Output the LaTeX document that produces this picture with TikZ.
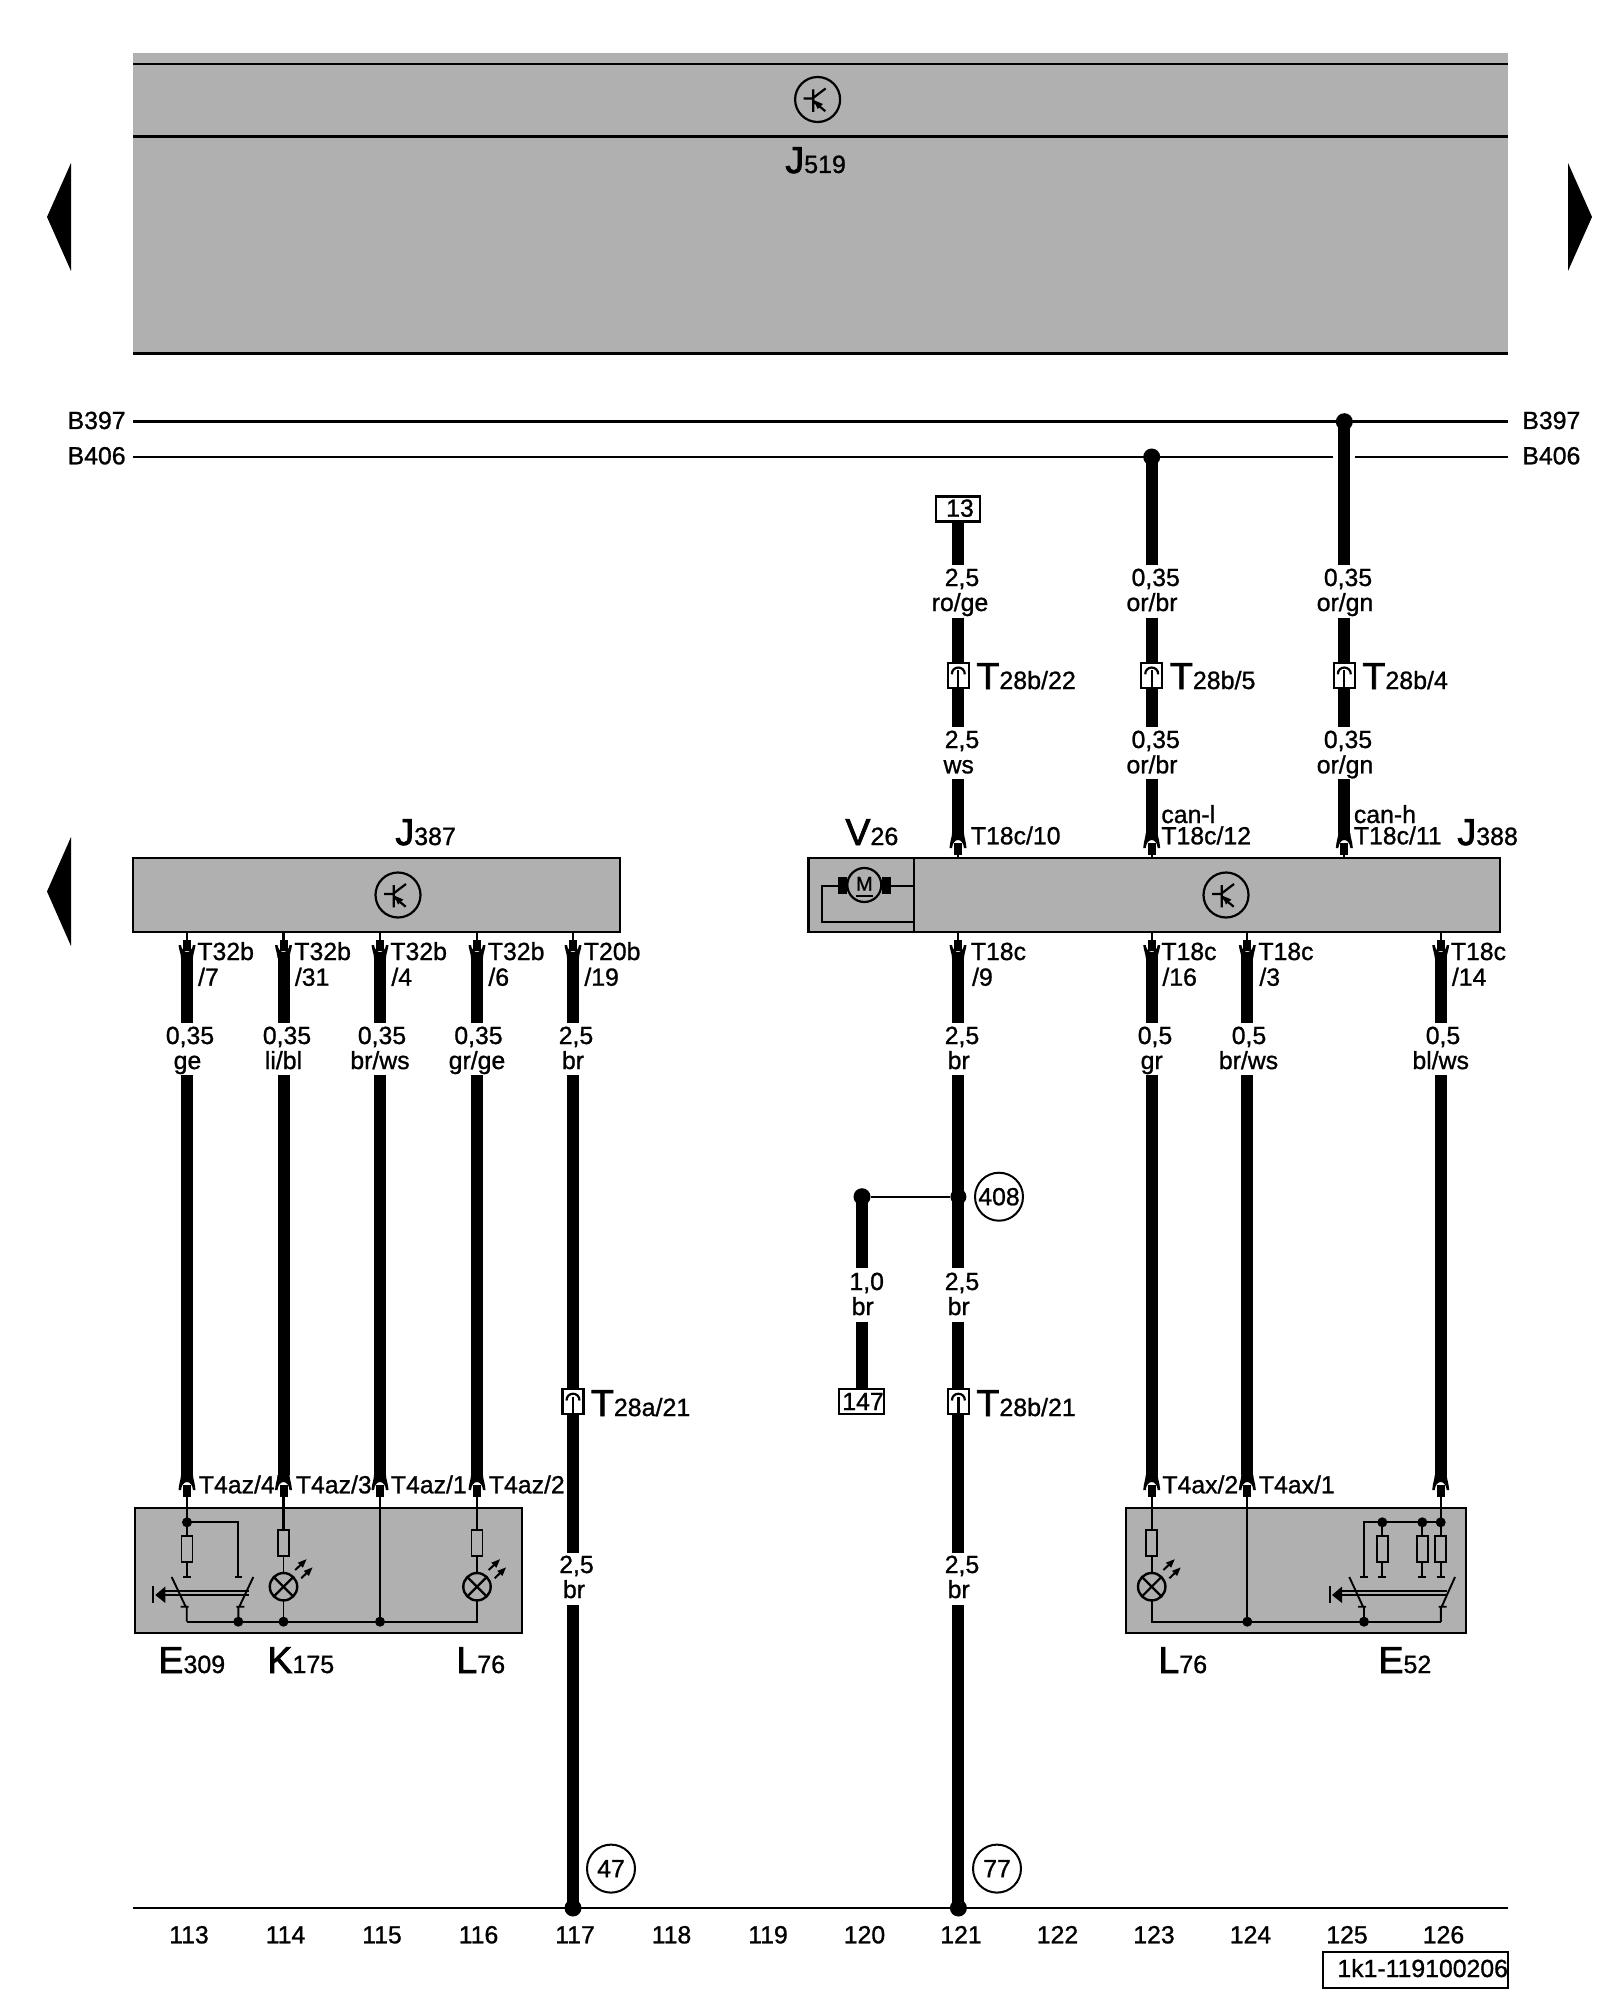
\documentclass[tikz,border=0pt]{standalone}
\usepackage{fontspec}
\setmainfont[FakeBold=1.0]{Liberation Sans}
\newfontfamily\bigf[FakeBold=2.0]{Liberation Sans}
\newcommand{\Bg}[2]{{\bigf\fontsize{18.8pt}{20pt}\selectfont #1}{\fontsize{12.5pt}{14pt}\selectfont #2}}
\definecolor{ecu}{RGB}{176,176,176}
\tikzset{
  thinl/.style={line width=1.35pt,black},
  sym/.style={line width=0.95pt,black},
  wire/.style={line width=6pt,black},
  lab/.style={font=\fontsize{12.4pt}{14pt}\selectfont,inner sep=0pt,anchor=base},
  labw/.style={font=\fontsize{12.4pt}{14pt}\selectfont,inner sep=0pt,anchor=base west},
  big/.style={inner sep=0pt,anchor=base west},
  panel/.style={fill=ecu,draw=black,line width=1.2pt},
  refcirc/.style={circle,draw=black,line width=1pt,fill=white,minimum size=24pt,inner sep=0pt,font=\fontsize{12.4pt}{14pt}\selectfont},
  refbox/.style={rectangle,draw=black,line width=1.1pt,fill=white,inner sep=0pt,font=\fontsize{12.4pt}{14pt}\selectfont},
  dot/.style={circle,fill=black,inner sep=0pt,minimum size=#1},
  dot/.default=5pt
}
% wire segment
\newcommand{\seg}[4]{\coordinate (#1a) at (#2,#3);\coordinate (#1b) at (#2,#4);\draw[wire] (#1a) -- (#1b);}
% two line wire label
\newcommand{\wl}[6]{\node[lab] at (#1,#2) {#3};\node[lab] at (#4,#5) {#6};}
% connector entering a box from above (apex y, flare end y, box/target y)
\newcommand{\connup}[3]{\fill (#1-8.5,#2+12) .. controls (#1-8,#2+5) and (#1-6,#2+1) .. (#1-6,#2-3) -- (#1+6,#2-3) .. controls (#1+6,#2+1) and (#1+8,#2+5) .. (#1+8.5,#2+12) -- (#1+6,#2+12) .. controls (#1+5.5,#2+7) and (#1+3,#2+4) .. (#1,#2+4) .. controls (#1-3,#2+4) and (#1-5.5,#2+7) .. (#1-6,#2+12) -- cycle;
  \draw[line width=4pt] (#1,#2+7) -- (#1,#2+19);\draw[line width=1.1pt] (#1,#2+19) -- (#1,#3);}
% connector leaving a box below
\newcommand{\conndn}[1]{\draw[line width=1.1pt] (#1,931.7) -- (#1,940);\draw[line width=4pt] (#1,940) -- (#1,951);
  \fill (#1-8.5,945) .. controls (#1-8,950) and (#1-6,954) .. (#1-6,958) -- (#1+6,958) .. controls (#1+6,954) and (#1+8,950) .. (#1+8.5,945) -- (#1+6,945) .. controls (#1+5.5,949) and (#1+3,952) .. (#1,952) .. controls (#1-3,952) and (#1-5.5,949) .. (#1-6,945) -- cycle;}
% inline plug
\newcommand{\plug}[3]{\node[rectangle,draw=black,line width=1.1pt,fill=white,minimum width=10.5pt,minimum height=12.5pt,inner sep=0pt] (#3) at (#1,#2) {};
  \draw[line width=1.1pt] (#1-6.5,#2-1) .. controls (#1-6.5,#2-10) and (#1+6.5,#2-10) .. (#1+6.5,#2-1);
  \draw[line width=1.1pt] (#1,#2-5) -- (#1,#2+12);}
% control unit symbol
\newcommand{\tcirc}[3]{\node[circle,draw=black,line width=1.1pt,fill=none,minimum size=22.5pt,inner sep=0pt] (#3) at (#1,#2) {};
  \begin{scope}[shift={(#1,#2)}]
  \draw[line width=1.1pt] (-14,-1) -- (-4.3,-1) (-4.3,-10) -- (-4.3,12.3) (-4.3,-1.7) -- (8,-11) (-4.3,1.7) -- (7.7,11.7);
  \fill (-3.7,0.7) -- (5.3,4.5) -- (0,9.5) -- cycle;
  \end{scope}}
% resistor
\newcommand{\res}[3]{\draw[sym,fill=ecu] (#1-5.5,#2) rectangle (#1+5.5,#3);}
% lamp
\newcommand{\lamp}[2]{\begin{scope}[shift={(#1,#2)}]
  \draw[line width=1.2pt,fill=ecu] (0,0) circle (13.7);
  \draw[line width=1.1pt] (-9.7,-9.7) -- (9.7,9.7) (-9.7,9.7) -- (9.7,-9.7);
  \end{scope}}
% LED rays
\newcommand{\rays}[2]{\begin{scope}[shift={(#1,#2)}]
  \foreach \dx/\dy in {0/0,6/8.2}{
    \draw[line width=1pt] (\dx+11.7,\dy-16.7) -- (\dx+17.5,\dy-22.2);
    \fill (\dx+23,\dy-27.5) -- (\dx+14.2,\dy-24) -- (\dx+19.4,\dy-19) -- cycle;}
  \end{scope}}
% switch
\newcommand{\swt}[6]{
  \draw[sym] (#1,1577) -- (#2-1,1606.7) (#2-6,1606.7) -- (#2+2,1606.7) (#2,1606.7) -- (#2,1621.7);
  \draw[sym] (#4,1577) -- (#3+1,1606.7) (#3-2,1606.7) -- (#3+6,1606.7) (#3,1606.7) -- (#3,1621.7);
  \draw[sym] (#5+10,1590.7) -- (#6,1590.7) (#5+10,1595) -- (#6,1595);
  \fill (#5+2,1595) -- (#5+12,1586.5) -- (#5+12,1603) -- cycle;
  \draw[line width=1.1pt] (#5,1586) -- (#5,1603);}
\begin{document}
\begin{tikzpicture}[x=0.5pt,y=-0.5pt]
\useasboundingbox (0,0) rectangle (1600,2000);
\fill[white] (0,0) rectangle (1600,2000);
% ---- J519
\fill[ecu] (133,53.5) rectangle (1508,353.5);
\coordinate (tl1) at (133,64);\coordinate (tr1) at (1508,64);
\coordinate (tl2) at (133,136.5);\coordinate (tr2) at (1508,136.5);
\coordinate (tl3) at (133,353.5);\coordinate (tr3) at (1508,353.5);
\draw[thinl] (tl1)--(tr1) (tl2)--(tr2) (tl3)--(tr3);
\tcirc{817.6}{99.5}{c519}
\node[big] (j519) at (785,173) {\Bg{J}{519}};
% ---- page arrows
\fill (71,163) -- (47,217) -- (71,271) -- cycle;
\fill (1568,163) -- (1592,217) -- (1568,271) -- cycle;
\fill (71,837) -- (47,891.5) -- (71,946) -- cycle;
% ---- buses
\node[lab,anchor=base east] (b397l) at (126,429) {B397};
\node[lab,anchor=base west] (b397r) at (1522,429) {B397};
\node[lab,anchor=base east] (b406l) at (126,464.3) {B406};
\node[lab,anchor=base west] (b406r) at (1522,464.3) {B406};
\coordinate (a397) at (133,421.7);\coordinate (c397) at (1508,421.7);
\coordinate (a406) at (133,457);\coordinate (c406) at (1333,457);
\coordinate (d406) at (1355,457);\coordinate (e406) at (1508,457);
\draw[thinl] (a397)--(c397) (a406)--(c406) (d406)--(e406);
\node[refbox,minimum width=22pt,minimum height=12.5pt] (k13) at (958,509) {};
\node[lab,anchor=base] at (960,516.7) {13};
% ---- wires upper right
\seg{ua}{958}{522}{565}\seg{ub}{958}{617.7}{663}\seg{uc}{958}{687.7}{726.7}\seg{ud}{958}{779.3}{833}
\seg{va}{1151.7}{457}{565}\seg{vb}{1151.7}{617.7}{663}\seg{vc}{1151.7}{687.7}{726.7}\seg{vd}{1151.7}{779.3}{833}
\seg{wa}{1344.3}{421.7}{565}\seg{wb}{1344.3}{617.7}{663}\seg{wc}{1344.3}{687.7}{726.7}\seg{wd}{1344.3}{779.3}{833}
\node[dot=8.5pt] (d1) at (1151.7,457) {};
\node[dot=8.5pt] (d2) at (1344.3,421.7) {};
\plug{958.3}{675.3}{p22}\plug{1151.7}{675.3}{p5}\plug{1344.3}{675.3}{p4}
\wl{962}{586}{2,5}{960}{611}{ro/ge}
\wl{1155.7}{586}{0,35}{1152}{611}{or/br}
\wl{1348}{586}{0,35}{1345}{611}{or/gn}
\wl{962}{748}{2,5}{958.7}{773.3}{ws}
\wl{1155.7}{748}{0,35}{1152}{773.3}{or/br}
\wl{1348}{748}{0,35}{1345}{773.3}{or/gn}
\node[big] at (976,689) {\Bg{T}{28b/22}};
\node[big] at (1169.5,689) {\Bg{T}{28b/5}};
\node[big] at (1362,689) {\Bg{T}{28b/4}};
% ---- J387 / J388 boxes
\node[big] at (395,845) {\Bg{J}{387}};
\node[big] at (1457,845) {\Bg{J}{388}};
\node[big] at (845,845) {\Bg{V}{26}};
\draw[panel] (133,858) rectangle (620,931.7);
\draw[panel] (808.3,858) rectangle (1500,931.7);
\coordinate (dv1) at (914.3,858);\coordinate (dv2) at (914.3,931.7);
\draw[line width=1.1pt] (dv1)--(dv2);
\tcirc{398}{895}{c387}
\tcirc{1226}{895}{c388}
% motor
\node[circle,draw=black,line width=1.1pt,fill=ecu,minimum size=17pt,inner sep=0pt] (mot) at (864.3,885) {};
\node[inner sep=0pt,anchor=base,font=\fontsize{10pt}{11pt}\selectfont] at (864.3,890.7) {M};
\coordinate (ua1) at (855.6,895.5);\coordinate (ua2) at (873,895.5);
\draw[line width=1pt] (ua1)--(ua2);
\fill (838.3,877) rectangle (847.3,894);\fill (881.7,877) rectangle (891,894);
\coordinate (mr) at (914.3,886);\coordinate (ml) at (838.3,886);
\coordinate (mb) at (914.3,921.7);
\draw[line width=1pt] (891,886)--(mr);
\draw[line width=1pt] (ml) -| (822.3,921.7) -- (mb);
% ---- upper connectors on J388
\connup{958}{836}{858}\connup{1151.7}{836}{858}\connup{1344.3}{836}{858}
\node[labw] at (970.5,844.3) {T18c/10};
\node[labw] at (1161,823) {can-l};
\node[labw] at (1161,844.3) {T18c/12};
\node[labw] at (1353.5,823) {can-h};
\node[labw] at (1353.5,844.3) {T18c/11};
% ---- lower wires
\foreach \xx/\nn in {187/a,283.5/b,380/c,477/d,573/e,958/f,1151.7/g,1247.3/h,1440.7/i}{
  \conndn{\xx}
  \coordinate (lo\nn a) at (\xx,956);\coordinate (lo\nn b) at (\xx,1023);
  \draw[wire] (lo\nn a) -- (lo\nn b);}
\foreach \xx/\tt in {197/T32b,294/T32b,390/T32b,487.5/T32b,583.5/T20b,970.5/T18c,1161/T18c,1258/T18c,1450.5/T18c}{
  \node[labw] at (\xx,960) {\tt};}
\node[labw] at (197.7,985.7) {/7};\node[labw] at (294.5,985.7) {/31};\node[labw] at (391,985.7) {/4};
\node[labw] at (488,985.7) {/6};\node[labw] at (584,985.7) {/19};\node[labw] at (971.7,985.7) {/9};
\node[labw] at (1162,985.7) {/16};\node[labw] at (1259,985.7) {/3};\node[labw] at (1451.5,985.7) {/14};
\wl{190}{1044}{0,35}{187.5}{1069}{ge}
\wl{287}{1044}{0,35}{283.5}{1069}{li/bl}
\wl{382}{1044}{0,35}{380}{1069}{br/ws}
\wl{478.5}{1044}{0,35}{477}{1069}{gr/ge}
\wl{576}{1044}{2,5}{573}{1069}{br}
\wl{962}{1044}{2,5}{958.7}{1069}{br}
\wl{1155}{1044}{0,5}{1151.7}{1069}{gr}
\wl{1249}{1044}{0,5}{1248.5}{1069}{br/ws}
\wl{1443}{1044}{0,5}{1440.7}{1069}{bl/ws}
% long wires to lower boxes
\seg{l1}{187}{1075}{1475}\seg{l2}{283.5}{1075}{1475}\seg{l3}{380}{1075}{1475}\seg{l4}{477}{1075}{1475}
\seg{l5}{1151.7}{1075}{1475}\seg{l6}{1247.3}{1075}{1475}\seg{l7}{1440.7}{1075}{1475}
\seg{m1}{573}{1075}{1389}\seg{m2}{573}{1414}{1552.7}\seg{m3}{573}{1605}{1908}
\seg{n1}{958.4}{1075}{1268}\seg{n2}{958.4}{1321.7}{1389}\seg{n3}{958.4}{1414}{1552.7}\seg{n4}{958.4}{1605}{1908}
\seg{q1}{862}{1196.7}{1268}\seg{q2}{862}{1321.7}{1389}
\plug{573}{1401.5}{p28a}\plug{958.4}{1401.5}{p28b}
\node[big] at (590.5,1416) {\Bg{T}{28a/21}};
\node[big] at (976,1416) {\Bg{T}{28b/21}};
\node[refbox,minimum width=22.5pt,minimum height=12.5pt] (k147) at (861.5,1401.5) {};
\node[lab] at (863,1410) {147};
\node[dot=8.5pt] (j1) at (862,1196.7) {};
\node[dot=8pt] (j2) at (958.4,1196.7) {};
\draw[line width=1pt] (j1) -- (j2);
\node[refcirc] (r408) at (999,1196.7) {408};
\wl{866.7}{1290}{1,0}{862.7}{1315}{br}
\wl{962}{1290}{2,5}{958.7}{1315}{br}
\wl{576.5}{1573}{2,5}{574}{1598}{br}
\wl{962}{1573}{2,5}{958.7}{1598}{br}
% ---- bottom bus
\coordinate (g1) at (133,1908);\coordinate (g2) at (1508,1908);
\draw[thinl] (g1)--(g2);
\node[dot=8.5pt] (g47) at (573,1908) {};
\node[dot=8.5pt] (g77) at (958.4,1908) {};
\node[refcirc] (r47) at (611,1868.6) {47};
\node[refcirc] (r77) at (997,1868.6) {77};
\foreach \ii [count=\c from 0] in {113,...,126}{
  \pgfmathsetmacro{\xp}{189+96.5*\c}
  \node[lab] at (\xp,1943.3) {\ii};}
\node[refbox,minimum width=92.5pt,minimum height=18pt,fill=none] (code) at (1415.5,1970) {};
\node[labw] at (1337,1977) {1k1-119100206};
% ---- lower panels
\draw[panel] (135,1508) rectangle (521.7,1632.7);
\draw[panel] (1126,1508) rectangle (1465.7,1632.7);
\connup{187}{1478}{1522}\connup{283.5}{1478}{1530}\connup{380}{1478}{1621.7}\connup{477}{1478}{1530}
\connup{1151.7}{1478}{1530}\connup{1247.3}{1478}{1621.7}\connup{1440.7}{1478}{1522}
\node[labw] at (198.5,1493.3) {T4az/4};
\node[labw] at (295.5,1493.3) {T4az/3};
\node[labw] at (390.5,1493.3) {T4az/1};
\node[labw] at (488.5,1493.3) {T4az/2};
\node[labw] at (1162,1493.3) {T4ax/2};
\node[labw] at (1258.5,1493.3) {T4ax/1};
\node[big] at (158,1673) {\Bg{E}{309}};
\node[big] at (267,1673) {\Bg{K}{175}};
\node[big] at (456,1673) {\Bg{L}{76}};
\node[big] at (1158,1673) {\Bg{L}{76}};
\node[big] at (1378,1673) {\Bg{E}{52}};
% left panel inside
\draw[sym] (187,1522.3) -- (187,1576.7) (183,1576.7) -- (191,1576.7);
\res{187}{1536}{1562.3}
\draw[sym] (187,1522.3) -- (238.3,1522.3) -- (238.3,1576.7) (234.5,1576.7) -- (242,1576.7);
\node[dot=5pt] at (187,1522.3) {};
\swt{171.7}{186.7}{238.3}{253.3}{153.3}{249}
\draw[sym] (186.7,1621.7) -- (476.7,1621.7) -- (476.7,1600);
\draw[sym] (283.5,1530) -- (283.5,1621.7);
\res{283.5}{1530}{1555.7}
\lamp{283.5}{1586.7}\rays{283.5}{1586.7}
\draw[sym] (477,1530) -- (477,1600);
\res{477}{1530}{1555.7}
\lamp{477}{1586.7}\rays{477}{1586.7}
\node[dot=5pt] at (238.3,1621.7) {};
\node[dot=5pt] at (283.5,1621.7) {};
\node[dot=5pt] at (380,1621.7) {};
% right panel inside
\draw[sym] (1151.7,1530) -- (1151.7,1621.7) -- (1440.7,1621.7) (1440.7,1606.7) -- (1440.7,1621.7);
\res{1151.7}{1530}{1555.7}
\lamp{1151.7}{1586.7}\rays{1151.7}{1586.7}
\draw[sym] (1364,1576.7) -- (1364,1522.3) -- (1440.7,1522.3);
\draw[sym] (1360,1576.7) -- (1368,1576.7);
\foreach \xx in {1382.3,1422.3,1440.7}{
  \draw[sym] (\xx,1522.3) -- (\xx,1576.7) (\xx-4,1576.7) -- (\xx+4,1576.7);
  \res{\xx}{1536}{1562.3}
  \node[dot=5pt] at (\xx,1522.3) {};}
\swt{1349.3}{1364}{1440.7}{1455}{1330}{1447}
\node[dot=5pt] at (1247.3,1621.7) {};
\node[dot=5pt] at (1364,1621.7) {};
\end{tikzpicture}
\end{document}
